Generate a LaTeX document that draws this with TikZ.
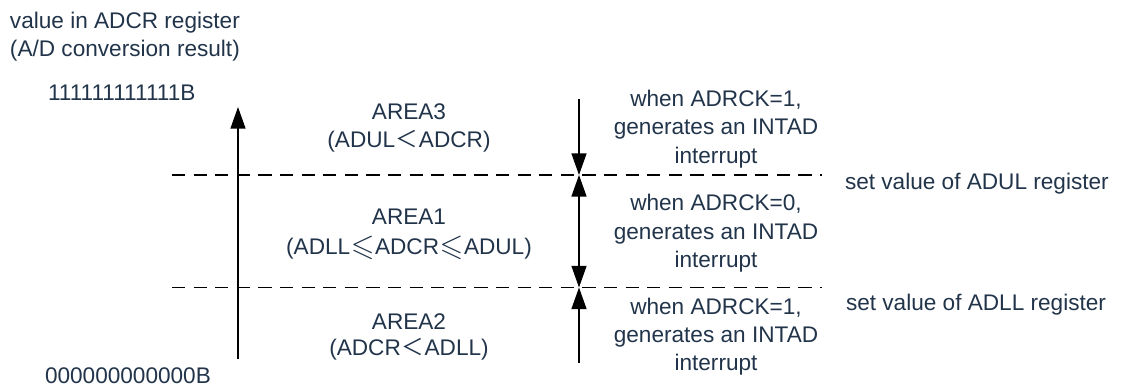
\documentclass[tikz,border=0pt]{standalone}
\usepackage{amssymb}
\usepackage{graphicx}
\usepackage{fontspec}
\setmainfont{Liberation Sans}
\newfontfamily\cjkf{Noto Sans CJK SC}
\usetikzlibrary{arrows.meta}
\definecolor{txt}{RGB}{33,52,74}
\newcommand{\wlt}{\makebox[1.05em]{\cjkf ＜}}
\newcommand{\wle}{\makebox[1.1em]{\raisebox{-0.3pt}{\scalebox{1.35}{$\leqslant$}}}}
\tikzset{
  lbl/.style={inner sep=0pt, outer sep=0pt, text=txt, font=\fontsize{11.3}{14}\selectfont, anchor=base},
  lblw/.style={lbl, anchor=base west},
  ln/.style={line width=0.65pt, black},
  dsh/.style={line width=0.8pt, black, dash pattern=on 6.6pt off 4.2pt},
  tip/.style={-{Triangle[length=10.8pt,width=7.5pt]}},
  tips/.style={{Triangle[length=10.8pt,width=7.5pt]}-{Triangle[length=10.8pt,width=7.5pt]}}
}
\begin{document}
\begin{tikzpicture}[x=0.5pt,y=-0.5pt]
\useasboundingbox (0,0) rectangle (1125,385);
% left labels
\node[lblw] (t1) at (10,29) {value in ADCR register};
\node[lblw] (t2) at (10,57) {(A/D conversion result)};
\node[lblw] (ones) at (48,101) {111111111111B};
\node[lblw] (zeros) at (45,383) {000000000000B};
% coordinates
\coordinate (upB) at (238,359);
\coordinate (upT) at (238,107);
\coordinate (ulL) at (172,175);
\coordinate (ulR) at (822,175);
\coordinate (llL) at (172,287.5);
\coordinate (llR) at (822,287.5);
\coordinate (ulM) at (579,175);
\coordinate (llM) at (579,287.5);
\coordinate (rTop) at (579,99);
\coordinate (rBot) at (579,363);
% lines
\draw[dsh] (ulL) -- (ulR);
\draw[dsh] (llL) -- (llR);
\draw[ln,tip] (upB) -- (upT);
\draw[ln,tip] (rTop) -- (ulM);
\draw[ln,tips] (ulM) -- (llM);
\draw[ln,tip] (rBot) -- (llM);
% area labels
\node[lbl] (a3a) at (409,120) {AREA3};
\node[lbl] (a3b) at (409,148) {(ADUL\wlt ADCR)};
\node[lbl] (a1a) at (409,225) {AREA1};
\node[lbl] (a1b) at (409,255) {(ADLL\wle ADCR\wle ADUL)};
\node[lbl] (a2a) at (409,329) {AREA2};
\node[lbl] (a2b) at (409,355) {(ADCR\wlt ADLL)};
% right condition labels
\node[lbl] (c1a) at (716,107) {when ADRCK=1,};
\node[lbl] (c1b) at (716,135) {generates an INTAD};
\node[lbl] (c1c) at (716,163) {interrupt};
\node[lbl] (c2a) at (716,211) {when ADRCK=0,};
\node[lbl] (c2b) at (716,239) {generates an INTAD};
\node[lbl] (c2c) at (716,267) {interrupt};
\node[lbl] (c3a) at (716,314) {when ADRCK=1,};
\node[lbl] (c3b) at (716,342) {generates an INTAD};
\node[lbl] (c3c) at (716,370) {interrupt};
% set value labels
\node[lblw] (sul) at (845,190) {set value of ADUL register};
\node[lblw] (sll) at (846,310) {set value of ADLL register};
\end{tikzpicture}
\end{document}
